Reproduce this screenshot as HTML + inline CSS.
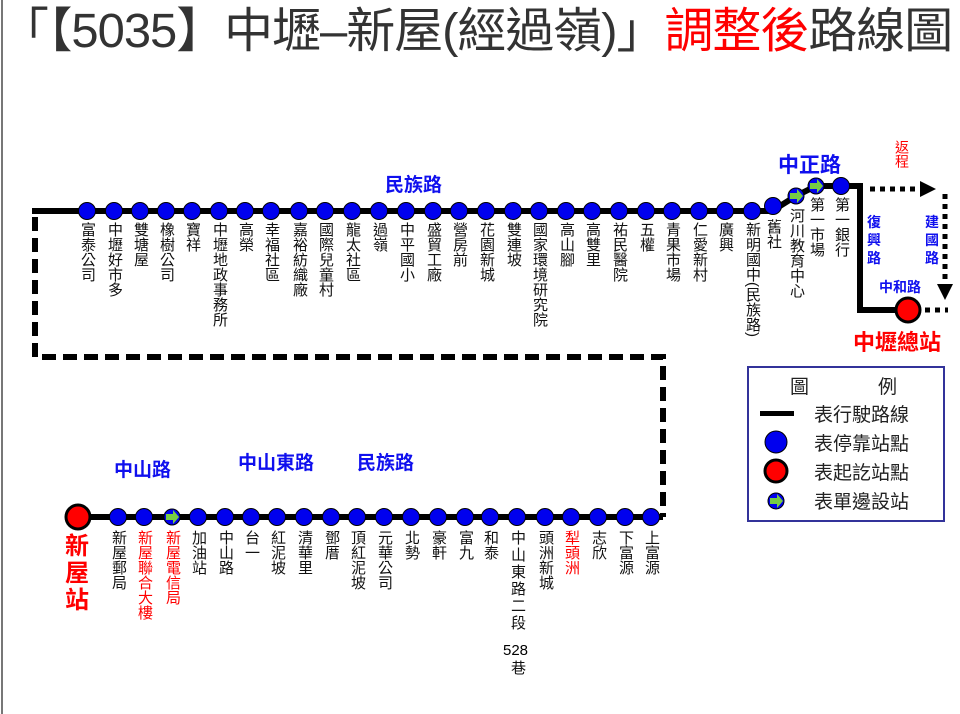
<!DOCTYPE html>
<html><head><meta charset="utf-8"><style>
body{margin:0;width:960px;height:714px;background:#fff;position:relative;overflow:hidden;font-family:"Liberation Sans","Noto Sans CJK TC",sans-serif}
.v{position:absolute;writing-mode:vertical-rl;text-orientation:mixed;font-size:15px;line-height:16px;color:#111;letter-spacing:0;width:16px}
.r{color:#f00}
.b{position:absolute;color:#1010ee;font-weight:bold;white-space:nowrap}
.t{position:absolute;white-space:nowrap}
</style></head><body>
<div class="t" style="left:0;top:-9px;font-size:48px;color:#333;transform:scaleX(1.02);transform-origin:0 0;letter-spacing:-1px">「【5035】中壢–新屋(經過嶺)」<span style="color:#f00">調整後</span>路線圖</div>
<svg width="960" height="714" style="position:absolute;left:0;top:0">
<line x1="2" y1="0" x2="2" y2="714" stroke="#777" stroke-width="2"/>
<polyline points="32,211 772,211 796,196 816,186 860,186 860,310 908,310" fill="none" stroke="#000" stroke-width="6"/>
<polyline points="35,217 35,357 663,357 663,517" fill="none" stroke="#000" stroke-width="6" stroke-dasharray="14,7"/>
<line x1="78" y1="517" x2="663" y2="517" stroke="#000" stroke-width="6"/>
<g stroke="#000" stroke-width="5" stroke-dasharray="5,5" fill="none">
<line x1="870" y1="189" x2="925" y2="189"/><line x1="945" y1="194" x2="945" y2="285"/><line x1="925" y1="310" x2="948" y2="310"/></g>
<polygon points="920,181 936,189 920,197" fill="#000"/>
<polygon points="937,284 953,284 945,300" fill="#000"/>
<g fill="#0000ee" stroke="#000" stroke-width="1">
<circle cx="87" cy="211" r="8.5"/><circle cx="114" cy="211" r="8.5"/><circle cx="140" cy="211" r="8.5"/><circle cx="166" cy="211" r="8.5"/><circle cx="192" cy="211" r="8.5"/><circle cx="219" cy="211" r="8.5"/><circle cx="245" cy="211" r="8.5"/><circle cx="271" cy="211" r="8.5"/><circle cx="299" cy="211" r="8.5"/><circle cx="325" cy="211" r="8.5"/><circle cx="352" cy="211" r="8.5"/><circle cx="379" cy="211" r="8.5"/><circle cx="406" cy="211" r="8.5"/><circle cx="433" cy="211" r="8.5"/><circle cx="459" cy="211" r="8.5"/><circle cx="486" cy="211" r="8.5"/><circle cx="513" cy="211" r="8.5"/><circle cx="539" cy="211" r="8.5"/><circle cx="566" cy="211" r="8.5"/><circle cx="592" cy="211" r="8.5"/><circle cx="619" cy="211" r="8.5"/><circle cx="646" cy="211" r="8.5"/><circle cx="672" cy="211" r="8.5"/><circle cx="699" cy="211" r="8.5"/><circle cx="725" cy="211" r="8.5"/><circle cx="752" cy="211" r="8.5"/><circle cx="773" cy="206" r="8.5"/><circle cx="841" cy="186" r="8.5"/>
<circle cx="118" cy="517" r="8.5"/><circle cx="144" cy="517" r="8.5"/><circle cx="198" cy="517" r="8.5"/><circle cx="225" cy="517" r="8.5"/><circle cx="251" cy="517" r="8.5"/><circle cx="277" cy="517" r="8.5"/><circle cx="304" cy="517" r="8.5"/><circle cx="331" cy="517" r="8.5"/><circle cx="357" cy="517" r="8.5"/><circle cx="384" cy="517" r="8.5"/><circle cx="411" cy="517" r="8.5"/><circle cx="438" cy="517" r="8.5"/><circle cx="465" cy="517" r="8.5"/><circle cx="490" cy="517" r="8.5"/><circle cx="517" cy="517" r="8.5"/><circle cx="545" cy="517" r="8.5"/><circle cx="571" cy="517" r="8.5"/><circle cx="598" cy="517" r="8.5"/><circle cx="625" cy="517" r="8.5"/><circle cx="651" cy="517" r="8.5"/>
<circle cx="796" cy="196" r="8"/><circle cx="816" cy="186" r="8"/><circle cx="172" cy="517" r="8"/>
<circle cx="776" cy="442" r="11" ry="9"/><circle cx="776" cy="501" r="8"/>
</g>
<g fill="#7c4" stroke="none">
<polygon points="790,193 797,193 797,189 803,196 797,203 797,199 790,199"/>
<polygon points="810,183 817,183 817,179 823,186 817,193 817,189 810,189"/>
<polygon points="166,514 173,514 173,510 179,517 173,524 173,520 166,520"/>
<polygon points="770,498 777,498 777,494 783,501 777,508 777,504 770,504"/>
</g>
<circle cx="908" cy="310" r="12" fill="#f00" stroke="#000" stroke-width="3"/>
<circle cx="78" cy="517" r="12" fill="#f00" stroke="#000" stroke-width="3"/>
<rect x="748" y="367" width="196" height="154" fill="none" stroke="#33339a" stroke-width="2"/>
<rect x="760" y="411" width="34" height="5" fill="#000"/>
<circle cx="776" cy="471" r="11" fill="#f00" stroke="#000" stroke-width="3"/>
</svg>
<div class="b" style="left:385px;top:170px;font-size:19px">民族路</div>
<div class="b" style="left:778px;top:149px;font-size:21px">中正路</div>
<div class="v r" style="left:893px;top:140px;font-size:14px;line-height:15px">返程</div>
<div class="b" style="left:867px;top:213px;font-size:14px;width:16px;white-space:normal;line-height:18px">復興路</div>
<div class="b" style="left:925px;top:213px;font-size:14px;width:16px;white-space:normal;line-height:18px">建國路</div>
<div class="b" style="left:879px;top:277px;font-size:14px">中和路</div>
<div class="t" style="left:853px;top:325px;font-size:22px;font-weight:bold;color:#f00">中壢總站</div>
<div class="b" style="left:114px;top:455px;font-size:19px">中山路</div>
<div class="b" style="left:238px;top:448px;font-size:19px">中山東路</div>
<div class="b" style="left:357px;top:448px;font-size:19px">民族路</div>
<div class="t" style="left:65px;top:533px;font-size:24px;line-height:27px;color:#f00;width:26px;white-space:normal;font-weight:bold">新屋站</div>
<div class="t" style="left:790px;top:372px;font-size:19px;color:#222">圖</div>
<div class="t" style="left:878px;top:372px;font-size:19px;color:#222">例</div>
<div class="t" style="left:814px;top:401px;font-size:19px;color:#222;line-height:29px">表行駛路線<br>表停靠站點<br>表起訖站點<br>表單邊設站</div>
<div class="v" style="left:79px;top:222px">富泰公司</div>
<div class="v" style="left:106px;top:222px">中壢好市多</div>
<div class="v" style="left:132px;top:222px">雙塘屋</div>
<div class="v" style="left:158px;top:222px">橡樹公司</div>
<div class="v" style="left:184px;top:222px">寶祥</div>
<div class="v" style="left:211px;top:222px">中壢地政事務所</div>
<div class="v" style="left:237px;top:222px">高榮</div>
<div class="v" style="left:263px;top:222px">幸福社區</div>
<div class="v" style="left:291px;top:222px">嘉裕紡織廠</div>
<div class="v" style="left:317px;top:222px">國際兒童村</div>
<div class="v" style="left:344px;top:222px">龍太社區</div>
<div class="v" style="left:371px;top:222px">過嶺</div>
<div class="v" style="left:398px;top:222px">中平國小</div>
<div class="v" style="left:425px;top:222px">盛貿工廠</div>
<div class="v" style="left:451px;top:222px">營房前</div>
<div class="v" style="left:478px;top:222px">花園新城</div>
<div class="v" style="left:505px;top:222px">雙連坡</div>
<div class="v" style="left:531px;top:222px">國家環境研究院</div>
<div class="v" style="left:558px;top:222px">高山腳</div>
<div class="v" style="left:584px;top:222px">高雙里</div>
<div class="v" style="left:611px;top:222px">祐民醫院</div>
<div class="v" style="left:638px;top:222px">五權</div>
<div class="v" style="left:664px;top:222px">青果市場</div>
<div class="v" style="left:691px;top:222px">仁愛新村</div>
<div class="v" style="left:717px;top:222px">廣興</div>
<div class="v" style="left:744px;top:222px">新明國中(民族路)</div>
<div class="v" style="left:765px;top:219px">舊社</div>
<div class="v" style="left:788px;top:208px">河川教育中心</div>
<div class="v" style="left:808px;top:197px">第一市場</div>
<div class="v" style="left:833px;top:197px">第一銀行</div>
<div class="v" style="left:110px;top:530px">新屋郵局</div>
<div class="v r" style="left:136px;top:530px">新屋聯合大樓</div>
<div class="v r" style="left:164px;top:530px">新屋電信局</div>
<div class="v" style="left:190px;top:530px">加油站</div>
<div class="v" style="left:217px;top:530px">中山路</div>
<div class="v" style="left:243px;top:530px">台一</div>
<div class="v" style="left:269px;top:530px">紅泥坡</div>
<div class="v" style="left:296px;top:530px">清華里</div>
<div class="v" style="left:323px;top:530px">鄧厝</div>
<div class="v" style="left:349px;top:530px">頂紅泥坡</div>
<div class="v" style="left:376px;top:530px">元華公司</div>
<div class="v" style="left:403px;top:530px">北勢</div>
<div class="v" style="left:430px;top:530px">豪軒</div>
<div class="v" style="left:457px;top:530px">富九</div>
<div class="v" style="left:482px;top:530px">和泰</div>
<div class="v" style="left:509px;top:530px;letter-spacing:2px">中山東路二段</div>
<div class="t" style="left:503px;top:642px;font-size:15px">528</div>
<div class="v" style="left:509px;top:660px">巷</div>
<div class="v" style="left:537px;top:530px">頭洲新城</div>
<div class="v r" style="left:563px;top:530px">犁頭洲</div>
<div class="v" style="left:590px;top:530px">志欣</div>
<div class="v" style="left:617px;top:530px">下富源</div>
<div class="v" style="left:643px;top:530px">上富源</div>
</body></html>
